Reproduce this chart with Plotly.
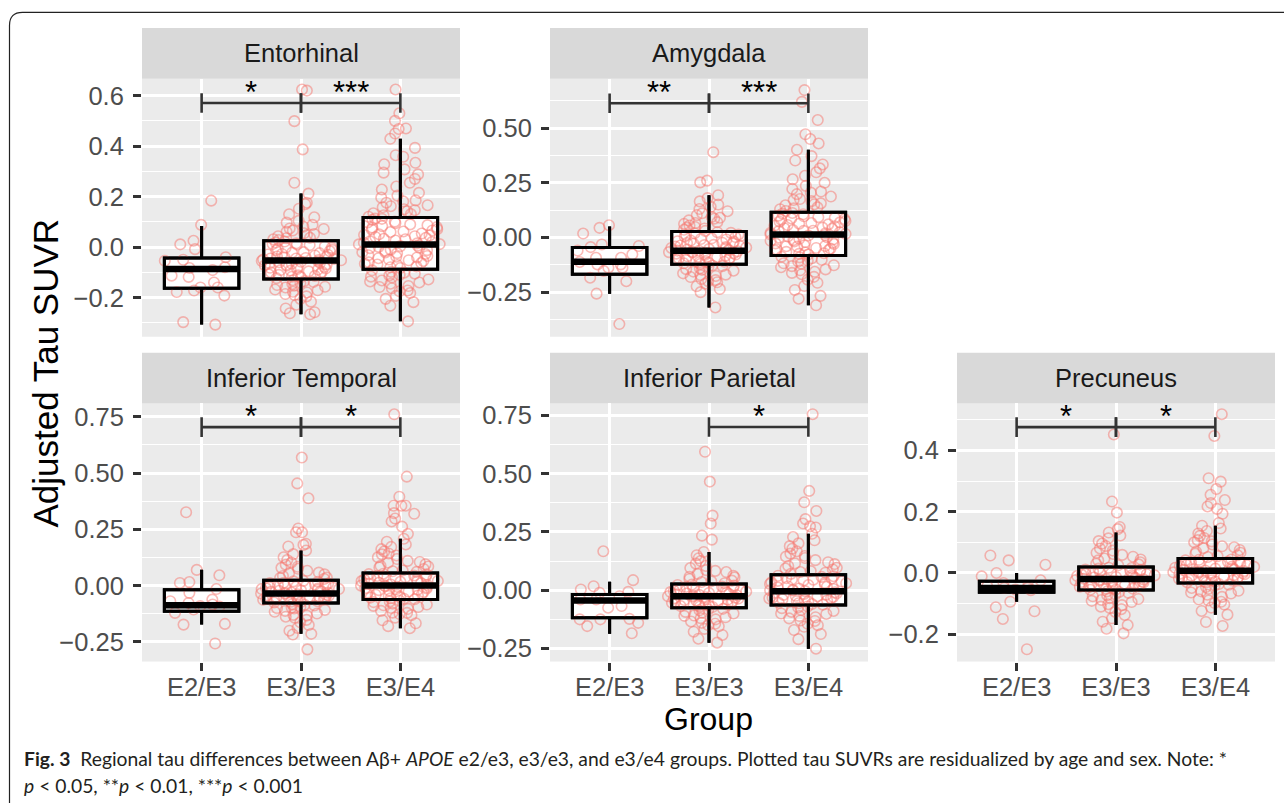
import plotly.graph_objects as go

W, H = 1284, 803

groups = ["E2/E3", "E3/E3", "E3/E4"]
regions = ["Entorhinal", "Amygdala", "Inferior Temporal", "Inferior Parietal", "Precuneus"]

# ---- box statistics per group: [lower whisker, q1, median, q3, upper whisker]
ent_stats = [[-0.307, -0.163, -0.087, -0.043, 0.084],
             [-0.266, -0.126, -0.053, 0.025, 0.212],
             [-0.294, -0.088, 0.010, 0.117, 0.429]]
amy_stats = [[-0.257, -0.168, -0.111, -0.046, 0.050],
             [-0.320, -0.123, -0.061, 0.027, 0.193],
             [-0.310, -0.082, 0.014, 0.115, 0.401]]
it_stats = [[-0.173, -0.114, -0.087, -0.018, 0.071],
            [-0.214, -0.077, -0.035, 0.024, 0.156],
            [-0.189, -0.062, 0.001, 0.056, 0.208]]
ip_stats = [[-0.187, -0.118, -0.044, -0.0185, 0.036],
            [-0.225, -0.075, -0.026, 0.027, 0.164],
            [-0.251, -0.064, -0.004, 0.066, 0.242]]
pc_stats = [[-0.094, -0.063, -0.049, -0.027, 0.000],
            [-0.170, -0.056, -0.0195, 0.0195, 0.132],
            [-0.136, -0.0325, 0.0076, 0.047, 0.154]]

# ---- individual (residualized) SUVR values
ent_e2e3 = [0.184, -0.008, 0.011, 0.088, 0.025, -0.040, -0.054, -0.113, -0.178, -0.160, -0.140,
            -0.192, -0.172, -0.160, -0.297, -0.307, -0.080, -0.083, -0.091, -0.118, -0.050]
ent_e3e3 = [0.624, 0.620, 0.499, 0.387, 0.255, 0.212, 0.176, 0.170, 0.152, 0.130, 0.118, 0.104, 0.097,
            0.088, 0.081, 0.074, 0.066, 0.061, 0.055, 0.048, 0.043, 0.037, 0.031, 0.028,
            0.022, 0.018, 0.012, 0.008, 0.003, -0.002, -0.007, -0.011, -0.016, -0.020, -0.024, -0.029,
            -0.033, -0.037, -0.041, -0.045, -0.049, -0.052, -0.055, -0.058, -0.062, -0.066, -0.070,
            -0.074, -0.078, -0.082, -0.087, -0.091, -0.096, -0.100, -0.105, -0.110, -0.114, -0.119,
            -0.123, -0.030, -0.060, -0.045, -0.085, 0.010,
            -0.131, -0.138, -0.146, -0.153, -0.160, -0.168, -0.177, -0.186, -0.195, -0.205, -0.216,
            -0.228, -0.243, -0.262, -0.266, -0.258, -0.150, -0.180,
            -0.003, -0.013, -0.022, -0.027, -0.039, -0.043, -0.047, -0.051, -0.057, -0.064, -0.068,
            -0.072, -0.079, -0.089, -0.093, -0.098, -0.108, -0.112, -0.117, 0.015, 0.035, 0.052,
            0.072, -0.135, -0.142, -0.157, -0.171, -0.190]
ent_e3e4 = [0.624, 0.530, 0.500, 0.468, 0.470, 0.450, 0.429, 0.393, 0.364, 0.358, 0.334, 0.328, 0.308,
            0.295, 0.288, 0.270, 0.255, 0.240, 0.228, 0.215, 0.204, 0.196, 0.185, 0.176, 0.166, 0.158,
            0.150, 0.142, 0.134, 0.126, 0.120,
            0.113, 0.108, 0.101, 0.095, 0.090, 0.083, 0.077, 0.071, 0.066, 0.060, 0.054, 0.048, 0.043,
            0.037, 0.031, 0.026, 0.020, 0.015, 0.011, 0.006, 0.001, -0.004, -0.010, -0.015, -0.021,
            -0.027, -0.032, -0.038, -0.044, -0.049, -0.055, -0.060, -0.066, -0.071, -0.077, -0.083,
            0.040, -0.020, 0.070, 0.012,
            -0.092, -0.098, -0.105, -0.112, -0.120, -0.128, -0.136, -0.145, -0.154, -0.163, -0.172,
            -0.182, -0.193, -0.205, -0.218, -0.232, -0.294, -0.110, -0.140, -0.175,
            0.112, 0.098, 0.087, 0.079, 0.062, 0.051, 0.046, 0.033, 0.023, 0.017, 0.004, -0.002,
            -0.012, -0.024, -0.035, -0.041, -0.052, -0.063, -0.069, -0.080, 0.131, 0.146, 0.162,
            0.181, -0.101, -0.117, -0.132, -0.158]

amy_e2e3 = [-0.032, -0.044, 0.056, 0.044, 0.018, -0.039, -0.112, -0.138, -0.257, -0.396, -0.153,
            -0.184, -0.200, -0.060, -0.123, -0.093, -0.123, -0.077, -0.138, -0.093]
amy_e3e3 = [0.390, 0.260, 0.252, 0.193, 0.180, 0.165, 0.150, 0.140, 0.130, 0.120, 0.111, 0.102, 0.094,
            0.086, 0.078, 0.070, 0.062, 0.055, 0.048, 0.041, 0.035, 0.030,
            0.024, 0.019, 0.013, 0.008, 0.002, -0.004, -0.009, -0.014, -0.019, -0.024, -0.029, -0.034,
            -0.039, -0.044, -0.048, -0.053, -0.057, -0.061, -0.065, -0.069, -0.074, -0.078, -0.083,
            -0.088, -0.093, -0.098, -0.103, -0.108, -0.113, -0.118, -0.050, -0.070, -0.035, -0.090,
            -0.060, -0.025, -0.080,
            -0.128, -0.134, -0.141, -0.148, -0.156, -0.164, -0.172, -0.181, -0.190, -0.200, -0.211,
            -0.223, -0.236, -0.250, -0.320, -0.145, -0.170, -0.205,
            0.021, 0.011, 0.004, -0.007, -0.017, -0.027, -0.037, -0.042, -0.046, -0.055, -0.063,
            -0.067, -0.072, -0.086, -0.096, -0.101, -0.111, -0.116, -0.121, 0.045, 0.066, 0.090,
            -0.131, -0.152, -0.176, -0.195]
amy_e3e4 = [0.674, 0.620, 0.537, 0.472, 0.450, 0.430, 0.401, 0.372, 0.352, 0.334, 0.316, 0.298, 0.282,
            0.266, 0.250, 0.236, 0.222, 0.210, 0.198, 0.187, 0.176, 0.166, 0.156, 0.147, 0.138, 0.129,
            0.121,
            0.112, 0.106, 0.100, 0.093, 0.087, 0.081, 0.075, 0.069, 0.063, 0.057, 0.051, 0.045, 0.040,
            0.034, 0.029, 0.024, 0.019, 0.014, 0.009, 0.004, -0.001, -0.006, -0.012, -0.018, -0.024,
            -0.030, -0.036, -0.042, -0.048, -0.054, -0.060, -0.066, -0.072, -0.078, 0.030, -0.015,
            0.060, 0.016, 0.090, -0.040,
            -0.088, -0.095, -0.102, -0.110, -0.118, -0.127, -0.136, -0.146, -0.157, -0.168, -0.180,
            -0.193, -0.207, -0.222, -0.240, -0.267, -0.280, -0.310, -0.120, -0.150,
            0.109, 0.097, 0.084, 0.072, 0.066, 0.054, 0.042, 0.031, 0.021, 0.011, 0.001, -0.009,
            -0.021, -0.027, -0.039, -0.051, -0.057, -0.069, -0.075, 0.133, 0.152, 0.171, 0.205,
            -0.091, -0.106, -0.131, -0.162]

it_e2e3 = [0.070, 0.046, 0.326, 0.016, 0.012, -0.032, -0.015, -0.077, -0.121, -0.173, -0.069, -0.062,
           -0.106, -0.170, -0.257, -0.091, -0.093, -0.084]
it_e3e3 = [0.569, 0.454, 0.388, 0.254, 0.237, 0.237, 0.186, 0.181, 0.174, 0.156, 0.140, 0.126, 0.114,
           0.103, 0.093, 0.084, 0.075, 0.066, 0.058, 0.050, 0.043, 0.036, 0.030,
           0.021, 0.017, 0.013, 0.009, 0.005, 0.001, -0.003, -0.007, -0.011, -0.015, -0.019, -0.023,
           -0.027, -0.031, -0.035, -0.039, -0.043, -0.047, -0.051, -0.055, -0.059, -0.063, -0.067,
           -0.071, -0.075, -0.030, -0.045, -0.015, -0.060, 0.000, -0.037,
           -0.082, -0.088, -0.094, -0.101, -0.108, -0.116, -0.124, -0.133, -0.142, -0.152, -0.163,
           -0.175, -0.188, -0.200, -0.214, -0.100, -0.130, -0.217, -0.283,
           0.019, 0.011, 0.003, -0.005, -0.009, -0.013, -0.021, -0.025, -0.033, -0.041, -0.049,
           -0.053, -0.057, -0.065, -0.069, -0.073, 0.034, 0.055, 0.079, -0.085, -0.097, -0.112,
           -0.138]
it_e3e4 = [0.761, 0.484, 0.395, 0.355, 0.355, 0.319, 0.355, 0.322, 0.298, 0.285, 0.262, 0.230, 0.208,
           0.195, 0.183, 0.172, 0.162, 0.152, 0.143, 0.134, 0.126, 0.118, 0.110, 0.102, 0.095, 0.088,
           0.081, 0.074, 0.067, 0.061,
           0.053, 0.049, 0.045, 0.041, 0.037, 0.033, 0.029, 0.025, 0.021, 0.017, 0.013, 0.009, 0.005,
           0.001, -0.003, -0.007, -0.011, -0.016, -0.021, -0.026, -0.031, -0.036, -0.041, -0.046,
           -0.051, -0.056, -0.060, 0.020, -0.020, 0.040, -0.040, 0.000,
           -0.067, -0.073, -0.080, -0.087, -0.095, -0.103, -0.112, -0.121, -0.131, -0.142, -0.154,
           -0.167, -0.180, -0.189, -0.090, -0.120,
           0.051, 0.043, 0.035, 0.027, 0.019, 0.011, 0.003, -0.005, -0.013, -0.018, -0.028, -0.038,
           -0.044, -0.053, -0.058, 0.064, 0.085, 0.105, 0.139, -0.070, -0.084, -0.099, -0.126]

ip_e2e3 = [0.043, 0.003, 0.167, 0.017, -0.007, -0.011, -0.125, -0.123, -0.154, -0.185, -0.075, -0.125,
           -0.140, -0.040, -0.026, -0.040, -0.068]
ip_e3e3 = [0.594, 0.466, 0.320, 0.286, 0.234, 0.217, 0.164, 0.150, 0.137, 0.125, 0.114, 0.104, 0.095,
           0.086, 0.078, 0.070, 0.062, 0.055, 0.048, 0.041, 0.035, 0.030,
           0.024, 0.020, 0.016, 0.012, 0.008, 0.004, 0.000, -0.004, -0.008, -0.012, -0.016, -0.020,
           -0.024, -0.028, -0.032, -0.036, -0.040, -0.044, -0.048, -0.052, -0.056, -0.060, -0.064,
           -0.068, -0.072, -0.026, -0.010, -0.045, 0.010, -0.035,
           -0.080, -0.086, -0.093, -0.100, -0.108, -0.116, -0.125, -0.134, -0.144, -0.155, -0.166,
           -0.178, -0.192, -0.208, -0.225, -0.110, -0.140,
           0.022, 0.014, 0.006, -0.002, -0.006, -0.014, -0.018, -0.022, -0.030, -0.038, -0.042,
           -0.050, -0.054, -0.062, -0.066, -0.070, 0.038, 0.058, 0.083, -0.083, -0.096, -0.120,
           -0.150]
ip_e3e4 = [0.755, 0.426, 0.377, 0.340, 0.305, 0.286, 0.274, 0.269, 0.242, 0.228, 0.214, 0.201, 0.189,
           0.178, 0.167, 0.157, 0.147, 0.138, 0.129, 0.120, 0.112, 0.104, 0.096, 0.089, 0.082, 0.075,
           0.070,
           0.062, 0.057, 0.052, 0.047, 0.042, 0.037, 0.032, 0.027, 0.022, 0.017, 0.012, 0.007, 0.002,
           -0.004, -0.009, -0.014, -0.019, -0.024, -0.029, -0.034, -0.039, -0.044, -0.049, -0.054,
           -0.059, 0.030, -0.020, 0.000, 0.045, -0.035,
           -0.070, -0.077, -0.085, -0.093, -0.102, -0.111, -0.121, -0.132, -0.144, -0.157, -0.171,
           -0.188, -0.210, -0.251, -0.100, -0.130,
           0.060, 0.050, 0.040, 0.034, 0.025, 0.015, 0.005, -0.001, -0.011, -0.016, -0.026, -0.032,
           -0.041, -0.047, -0.056, -0.062, 0.078, 0.093, 0.115, 0.144, -0.074, -0.089, -0.116,
           -0.150]

pc_e2e3 = [0.057, 0.027, 0.041, 0.000, -0.056, -0.024, -0.011, -0.125, -0.150, -0.094, -0.112, -0.249,
           -0.049, -0.043, -0.054, -0.043, -0.049, -0.033]
pc_e3e3 = [0.452, 0.233, 0.197, 0.150, 0.143, 0.132, 0.122, 0.113, 0.104, 0.096, 0.088, 0.080, 0.073,
           0.066, 0.059, 0.053, 0.047, 0.041, 0.035, 0.030, 0.025,
           0.017, 0.014, 0.011, 0.008, 0.005, 0.002, -0.001, -0.004, -0.007, -0.010, -0.013, -0.016,
           -0.019, -0.022, -0.025, -0.028, -0.031, -0.034, -0.037, -0.040, -0.043, -0.046, -0.049,
           -0.052, -0.055, -0.020, -0.030, -0.008, -0.040, 0.005,
           -0.060, -0.065, -0.070, -0.076, -0.082, -0.088, -0.095, -0.102, -0.110, -0.118, -0.127,
           -0.137, -0.148, -0.159, -0.170, -0.182, -0.197, -0.085, -0.105,
           0.016, 0.010, 0.004, -0.003, -0.006, -0.012, -0.015, -0.021, -0.024, -0.027, -0.033,
           -0.036, -0.042, -0.045, -0.051, -0.054, 0.028, 0.044, 0.062, -0.062, -0.073, -0.091,
           -0.114]
pc_e3e4 = [0.518, 0.447, 0.309, 0.298, 0.274, 0.255, 0.238, 0.228, 0.217, 0.209, 0.193, 0.163, 0.154,
           0.145, 0.137, 0.129, 0.121, 0.114, 0.107, 0.100, 0.093, 0.087, 0.081, 0.075, 0.069, 0.063,
           0.058, 0.052,
           0.044, 0.041, 0.038, 0.035, 0.032, 0.029, 0.026, 0.023, 0.020, 0.017, 0.014, 0.011, 0.008,
           0.005, 0.002, -0.001, -0.004, -0.007, -0.010, -0.013, -0.016, -0.019, -0.022, -0.025,
           -0.028, -0.031, 0.010, -0.005, 0.025, 0.000,
           -0.036, -0.041, -0.046, -0.052, -0.058, -0.064, -0.071, -0.078, -0.086, -0.094, -0.103,
           -0.113, -0.124, -0.136, -0.160, -0.173, -0.060, -0.090,
           0.043, 0.037, 0.031, 0.027, 0.021, 0.015, 0.012, 0.006, 0.001, -0.003, -0.009, -0.014,
           -0.018, -0.024, -0.027, -0.030, 0.055, 0.066, 0.084, 0.103, -0.038, -0.049, -0.067,
           -0.098]

# ---- significance brackets: (group a, group b, label) and bracket level
ent_sig = [("E2/E3", "E3/E3", "*"), ("E3/E3", "E3/E4", "***")]
amy_sig = [("E2/E3", "E3/E3", "**"), ("E3/E3", "E3/E4", "***")]
it_sig = [("E2/E3", "E3/E3", "*"), ("E3/E3", "E3/E4", "*")]
ip_sig = [("E3/E3", "E3/E4", "*")]
pc_sig = [("E2/E3", "E3/E3", "*"), ("E3/E3", "E3/E4", "*")]
sig_levels = [0.571, 0.614, 0.704, 0.700, 0.476]

# ---- y scales per panel
y_ranges = [[-0.355, 0.667], [-0.454, 0.726], [-0.337, 0.809], [-0.306, 0.801], [-0.289, 0.553]]
y_dticks = [0.2, 0.25, 0.25, 0.25, 0.2]
y_formats = [".1f", ".2f", ".2f", ".2f", ".1f"]

panel_stats = [ent_stats, amy_stats, it_stats, ip_stats, pc_stats]
panel_points = [[ent_e2e3, ent_e3e3, ent_e3e4], [amy_e2e3, amy_e3e3, amy_e3e4],
                [it_e2e3, it_e3e3, it_e3e4], [ip_e2e3, ip_e3e3, ip_e3e4],
                [pc_e2e3, pc_e3e3, pc_e3e4]]
panel_sig = [ent_sig, amy_sig, it_sig, ip_sig, pc_sig]

# ---- layout geometry (pixels)
panel_x = [(142, 460), (550, 868), (142, 460), (550, 868), (957, 1275)]
panel_y = [(77, 336), (77, 336), (403, 662), (403, 662), (403, 662)]
strip_y = [(26, 77), (26, 77), (352, 403), (352, 403), (352, 403)]
bottom_row = [False, False, True, True, True]

FONT = "Liberation Sans, Arial, Helvetica, sans-serif"
PT_COLOR = "rgba(248,118,109,0.5)"


def px(x):
    return x / W


def py(y):
    return 1 - y / H


fig = go.Figure()
layout = {}
shapes = []
annotations = []

for i in range(5):
    sfx = "" if i == 0 else str(i + 1)
    xref, yref = "x" + sfx, "y" + sfx
    stats = panel_stats[i]
    for g, st in zip(groups, stats):
        lo, q1, med, q3, hi = st
        fig.add_trace(go.Box(x=[g], q1=[q1], median=[med], q3=[q3], lowerfence=[lo], upperfence=[hi],
                             boxpoints=False, width=0.75, whiskerwidth=0, fillcolor="white",
                             line=dict(color="black", width=3), xaxis=xref, yaxis=yref,
                             hoverinfo="skip"))
    for g, vals in zip(groups, panel_points[i]):
        fig.add_trace(go.Box(x=[g] * len(vals), y=vals, boxpoints="all", jitter=1, pointpos=0,
                             width=0.86, fillcolor="rgba(0,0,0,0)",
                             line=dict(color="rgba(0,0,0,0)", width=0),
                             marker=dict(symbol="circle-open", size=10.5, color=PT_COLOR,
                                         line=dict(width=1.6)),
                             xaxis=xref, yaxis=yref, hoverinfo="skip"))
    for g, st in zip(groups, stats):
        lo, q1, med, q3, hi = st
        fig.add_trace(go.Box(x=[g], q1=[q1], median=[med], q3=[q3], lowerfence=[lo], upperfence=[hi],
                             boxpoints=False, width=0.75, whiskerwidth=0,
                             fillcolor="rgba(0,0,0,0)",
                             line=dict(color="black", width=3), xaxis=xref, yaxis=yref,
                             hoverinfo="skip"))
        fig.add_trace(go.Box(x=[g], q1=[med], median=[med], q3=[med], lowerfence=[med],
                             upperfence=[med], boxpoints=False, width=0.75, whiskerwidth=0,
                             fillcolor="rgba(0,0,0,0)", line=dict(color="black", width=6.5),
                             xaxis=xref, yaxis=yref, hoverinfo="skip"))
    lvl = sig_levels[i]
    for a, b, lab in panel_sig[i]:
        fig.add_trace(go.Scatter(x=[a, b], y=[lvl, lvl], mode="lines+markers",
                                 line=dict(color="#333333", width=2.6),
                                 marker=dict(symbol="line-ns-open", size=14,
                                             line=dict(color="#333333", width=2.6)),
                                 xaxis=xref, yaxis=yref, hoverinfo="skip"))
        mid = (groups.index(a) + groups.index(b)) / 2
        annotations.append(dict(x=mid, y=lvl, xref=xref, yref=yref, text=lab, showarrow=False,
                                yanchor="bottom", yshift=-9,
                                font=dict(family=FONT, size=31, color="black")))

    x0, x1 = panel_x[i]
    y0, y1 = panel_y[i]
    layout["xaxis" + sfx] = dict(
        domain=[px(x0), px(x1)], anchor=yref, type="category", categoryorder="array",
        categoryarray=groups, range=[-0.6, 2.6], showgrid=True, gridcolor="white", gridwidth=2.6,
        zeroline=False, showline=False, ticks="outside" if bottom_row[i] else "",
        showticklabels=bottom_row[i], ticklen=8, tickwidth=2.6, tickcolor="#333333",
        ticklabelstandoff=-5,
        tickfont=dict(family=FONT, size=25.5, color="#4D4D4D"), fixedrange=True)
    d = y_dticks[i]
    layout["yaxis" + sfx] = dict(
        domain=[py(y1), py(y0)], anchor=xref, range=y_ranges[i], tick0=0, dtick=d,
        tickformat=y_formats[i], showgrid=True, gridcolor="white", gridwidth=2.6,
        minor=dict(tick0=0, dtick=d / 2, showgrid=True, gridcolor="white", gridwidth=1.3),
        zeroline=False, showline=False, ticks="outside", ticklen=8, tickwidth=2.6,
        tickcolor="#333333", tickfont=dict(family=FONT, size=25.5, color="#4D4D4D"),
        ticklabelstandoff=4, fixedrange=True)

    sy0, sy1 = strip_y[i]
    shapes.append(dict(type="rect", xref="paper", yref="paper", x0=px(x0), x1=px(x1),
                       y0=py(sy1), y1=py(sy0), fillcolor="#D9D9D9", line=dict(width=0),
                       layer="below"))
    annotations.append(dict(x=px((x0 + x1) / 2), y=py((sy0 + sy1) / 2), xref="paper", yref="paper",
                            text=regions[i], showarrow=False, xanchor="center", yanchor="middle",
                            font=dict(family=FONT, size=25.5, color="#1A1A1A")))

annotations.append(dict(x=px(46), y=py(373), xref="paper", yref="paper", text="Adjusted Tau SUVR",
                        textangle=-90, showarrow=False, xanchor="center", yanchor="middle",
                        font=dict(family=FONT, size=35, color="black")))
annotations.append(dict(x=px(708.5), y=py(720), xref="paper", yref="paper", text="Group",
                        showarrow=False, xanchor="center", yanchor="middle",
                        font=dict(family=FONT, size=32, color="black")))

CAP_FONT = "Lato, Open Sans, sans-serif"
annotations.append(dict(
    x=px(22), y=py(759), xref="paper", yref="paper", xanchor="left", yanchor="middle",
    showarrow=False, align="left",
    text="<b>Fig. 3</b>  Regional tau differences between Aβ+ <i>APOE</i> e2/e3, e3/e3, and e3/e4 "
         "groups. Plotted tau SUVRs are residualized by age and sex. Note: *",
    font=dict(family=CAP_FONT, size=19.3, color="#231F20")))
annotations.append(dict(
    x=px(22), y=py(786), xref="paper", yref="paper", xanchor="left", yanchor="middle",
    showarrow=False, align="left",
    text="<i>p</i> < 0.05, **<i>p</i> < 0.01, ***<i>p</i> < 0.001",
    font=dict(family=CAP_FONT, size=19.3, color="#231F20")))

fx, fy, r = 9.5, 10.5, 13
path = (f"M {px(fx)},{py(H + 5)} L {px(fx)},{py(fy + r)} "
        f"Q {px(fx)},{py(fy)} {px(fx + r)},{py(fy)} L {px(W + 5)},{py(fy)}")
shapes.append(dict(type="path", xref="paper", yref="paper", path=path,
                   line=dict(color="#222222", width=1.2)))

fig.update_layout(width=W, height=H, margin=dict(l=0, r=0, t=0, b=0), autosize=False,
                  paper_bgcolor="white", plot_bgcolor="#EBEBEB", showlegend=False,
                  boxmode="overlay", shapes=shapes, annotations=annotations, **layout)

fig.write_html("out.html")
